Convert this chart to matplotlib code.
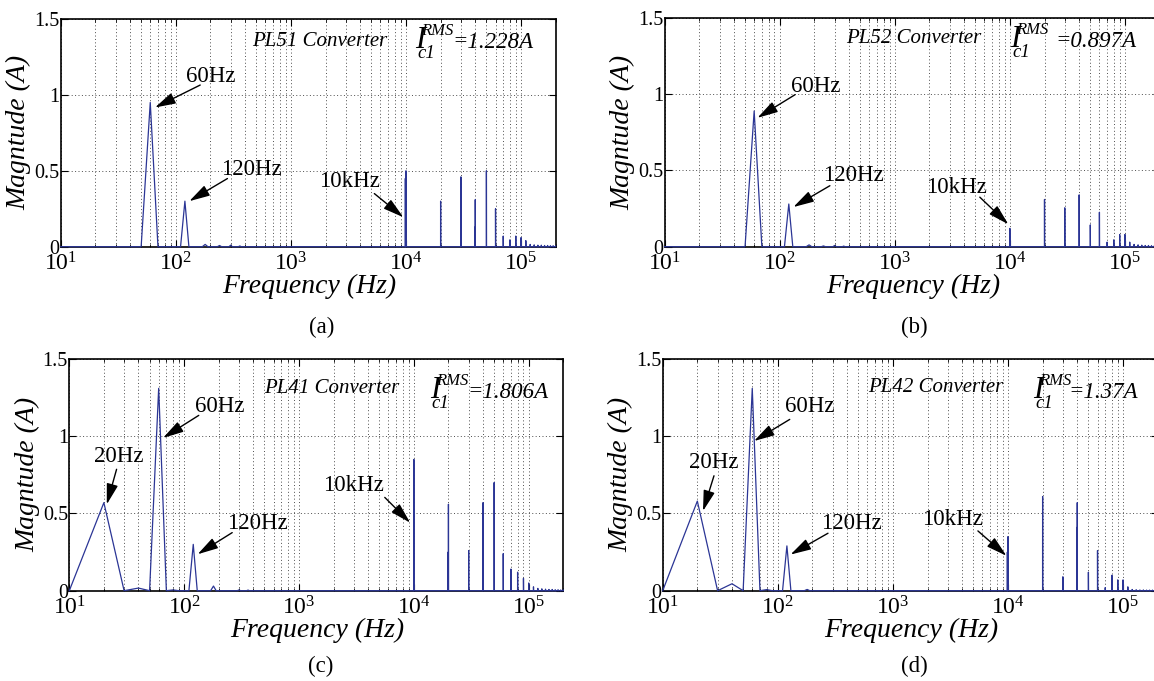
import numpy as np
import matplotlib.pyplot as plt
from matplotlib.ticker import FixedLocator, LogLocator, NullFormatter
from matplotlib.transforms import offset_copy

plt.rcParams['font.family'] = 'Liberation Serif'
plt.rcParams['mathtext.fontset'] = 'custom'
plt.rcParams['mathtext.rm'] = 'Liberation Serif'
plt.rcParams['mathtext.it'] = 'Liberation Serif:italic'
plt.rcParams['mathtext.bf'] = 'Liberation Serif:bold'

# switching harmonics: multiples of 10 kHz up to 200 kHz
sw_freq = [10000 * k for k in range(1, 21)]

# PL51
low_freq_a = [60, 120, 180, 240, 300, 360]
low_mag_a = [0.95, 0.30, 0.015, 0.008, 0.010, 0.005]
sw_mag_a = [0.50, 0.30, 0.46, 0.31, 0.50, 0.25, 0.07, 0.045, 0.07, 0.06,
            0.04, 0.015, 0.012, 0.010, 0.010, 0.008, 0.008, 0.006, 0.006, 0.005]
side_mag_a = [0.45, 0, 0, 0.13, 0, 0, 0, 0, 0, 0,
              0, 0, 0, 0, 0, 0, 0, 0, 0, 0]

# PL52
low_freq_b = [60, 120, 180, 240, 300, 360]
low_mag_b = [0.89, 0.28, 0.012, 0.005, 0.008, 0.004]
sw_mag_b = [0.12, 0.31, 0.255, 0.34, 0.143, 0.226, 0.03, 0.045, 0.08, 0.08,
            0.03, 0.015, 0.012, 0.010, 0.008, 0.008, 0.006, 0.006, 0.005, 0.005]
side_mag_b = [0, 0, 0, 0, 0, 0, 0, 0, 0, 0,
              0, 0, 0, 0, 0, 0, 0, 0, 0, 0]

# PL41
low_freq_c = [20, 40, 60, 80, 120, 180, 300, 360]
low_mag_c = [0.57, 0.017, 1.31, 0.005, 0.30, 0.03, 0.005, 0.004]
sw_mag_c = [0.85, 0.56, 0.26, 0.57, 0.70, 0.24, 0.14, 0.12, 0.08, 0.05,
            0.025, 0.015, 0.012, 0.010, 0.008, 0.008, 0.006, 0.006, 0.005, 0.005]
side_mag_c = [0, 0.25, 0, 0, 0, 0, 0, 0, 0, 0,
              0, 0, 0, 0, 0, 0, 0, 0, 0, 0]

# PL42
low_freq_d = [20, 40, 60, 80, 120, 180]
low_mag_d = [0.58, 0.045, 1.31, 0.007, 0.29, 0.008]
sw_mag_d = [0.35, 0.61, 0.09, 0.57, 0.12, 0.26, 0.02, 0.10, 0.07, 0.07,
            0.025, 0.008, 0.006, 0.005, 0.005, 0.004, 0.004, 0.004, 0.003, 0.003]
side_mag_d = [0.25, 0, 0, 0.41, 0, 0, 0, 0, 0, 0,
              0, 0, 0, 0, 0, 0, 0, 0, 0, 0]

names = ['PL51', 'PL52', 'PL41', 'PL42']
rms = ['=1.228A', '=0.897A', '=1.806A', '=1.37A']
captions = ['(a)', '(b)', '(c)', '(d)']


def spectrum(low_f, low_m, sw_m, side_m):
    # FFT bins every 10 Hz
    f = np.arange(10, 200001, 10)
    m = np.zeros(f.size)
    for fk, mk in zip(low_f, low_m):
        m[fk // 10 - 1] = mk
    for fk, mk, sk in zip(sw_freq, sw_m, side_m):
        i = fk // 10 - 1
        m[i] = mk
        if sk:
            m[i - 12] = sk
    return f, m


spectra = [
    spectrum(low_freq_a, low_mag_a, sw_mag_a, side_mag_a),
    spectrum(low_freq_b, low_mag_b, sw_mag_b, side_mag_b),
    spectrum(low_freq_c, low_mag_c, sw_mag_c, side_mag_c),
    spectrum(low_freq_d, low_mag_d, sw_mag_d, side_mag_d),
]

# axes boxes in pixels: left, top, right, bottom
W, H = 1154, 681
boxes = [(60.7, 19, 555.7, 246.7), (664.6, 18, 1159.6, 246.7),
         (69.3, 359, 563.3, 590.7), (662.7, 359, 1157.7, 590.7)]
caption_xy = [(322, 327), (914, 327), (321, 666), (914, 666)]
title_x = [0.524, 0.504, 0.532, 0.552]
title_y = [0.882, 0.889, 0.852, 0.857]
# left edge / baseline of the I symbol, and pixel shift of the "=value" part
irms_x = [0.716, 0.698, 0.730, 0.749]
irms_y = [0.871, 0.875, 0.830, 0.830]
irms_dx = [37, 45, 37, 35]

# (label, text position, arrow tail, arrow tip)
arrows = [
    [('60Hz', (203, 1.12), (163, 1.065), (66, 0.917)),
     ('120Hz', (451, 0.51), (281, 0.449), (131, 0.30)),
     ('10kHz', (3200, 0.427), (5310, 0.35), (9490, 0.194))],
    [('60Hz', (204, 1.05), (136, 0.997), (64, 0.845)),
     ('120Hz', (440, 0.466), (273, 0.40), (131.5, 0.26)),
     ('10kHz', (3410, 0.39), (5480, 0.325), (9700, 0.147))],
    [('20Hz', (26.9, 0.87), (25.8, 0.786), (21.2, 0.559)),
     ('60Hz', (203, 1.193), (134, 1.135), (65.5, 0.989)),
     ('120Hz', (435, 0.434), (262, 0.376), (131, 0.236)),
     ('10kHz', (3000, 0.683), (5580, 0.604), (9290, 0.44))],
    [('20Hz', (27.9, 0.827), (27.9, 0.744), (22.4, 0.516)),
     ('60Hz', (189, 1.193), (127, 1.109), (62.2, 0.969)),
     ('120Hz', (440, 0.432), (273, 0.372), (129, 0.234)),
     ('10kHz', (3290, 0.464), (5480, 0.387), (9700, 0.226))],
]

fig = plt.figure(figsize=(W / 100, H / 100), dpi=100)

for k in range(4):
    l, t, r, b = boxes[k]
    ax = fig.add_axes([l / W, 1 - b / H, (r - l) / W, (b - t) / H])
    f, m = spectra[k]
    ax.plot(f, m, color='#2b3595', lw=0.9, zorder=3, clip_on=False)
    ax.set_xscale('log')
    ax.set_xlim(10, 2e5)
    ax.set_ylim(0, 1.5)
    ax.yaxis.set_major_locator(FixedLocator([0, 0.5, 1, 1.5]))
    ax.set_yticklabels(['0', '0.5', '1', '1.5'])
    ax.xaxis.set_major_locator(LogLocator(base=10, numticks=10))
    ax.xaxis.set_minor_locator(LogLocator(base=10, subs=np.arange(2, 10), numticks=20))
    ax.xaxis.set_minor_formatter(NullFormatter())
    ax.grid(True, which='major', ls=(0, (1, 2.5)), color='0.3', lw=0.7)
    ax.grid(True, which='minor', axis='x', ls=(0, (1, 2.5)), color='0.3', lw=0.7)
    ax.tick_params(which='both', direction='in', top=True, right=True)
    ax.tick_params(which='major', length=5, width=0.8)
    ax.tick_params(which='minor', length=2.5, width=0.6)
    ax.tick_params(axis='x', labelsize=17, pad=4)
    ax.tick_params(axis='y', labelsize=14.5, pad=1)
    for s in ax.spines.values():
        s.set_linewidth(1.2)

    ax.text(0.502, -0.173, 'Frequency (Hz)', transform=ax.transAxes,
            ha='center', va='center', fontsize=20, style='italic')
    ax.text(-0.085, 0.5, 'Magntude (A)', transform=ax.transAxes, rotation=90,
            ha='center', va='center', fontsize=20, style='italic')
    ax.text(title_x[k], title_y[k], names[k] + ' Converter', transform=ax.transAxes,
            ha='center', va='baseline', fontsize=15, style='italic')

    # I_c1^RMS label built from separate pieces
    x0, y0 = irms_x[k], irms_y[k]
    ax.text(x0, y0, 'I', transform=ax.transAxes, ha='left', va='baseline',
            fontsize=22, style='italic')
    ax.text(x0, y0, 'RMS', ha='left', va='baseline', fontsize=12, style='italic',
            transform=offset_copy(ax.transAxes, fig=fig, x=6, y=13, units='dots'))
    ax.text(x0, y0, 'c1', ha='left', va='baseline', fontsize=13.5, style='italic',
            transform=offset_copy(ax.transAxes, fig=fig, x=2, y=-10, units='dots'))
    ax.text(x0, y0, rms[k], ha='left', va='baseline', fontsize=16.5, style='italic',
            transform=offset_copy(ax.transAxes, fig=fig, x=irms_dx[k], y=0, units='dots'))

    for label, txy, tail, tip in arrows[k]:
        ax.text(txy[0], txy[1], label, ha='center', va='center', fontsize=16.5)
        ax.annotate('', xy=tip, xytext=tail,
                    arrowprops=dict(arrowstyle='-|>,head_length=0.9,head_width=0.25',
                                    mutation_scale=14, lw=1, color='k',
                                    shrinkA=0, shrinkB=0))

    cx, cy = caption_xy[k]
    fig.text(cx / W, 1 - cy / H, captions[k], ha='center', va='center', fontsize=16.5)

fig.savefig('out.png', dpi=100)
